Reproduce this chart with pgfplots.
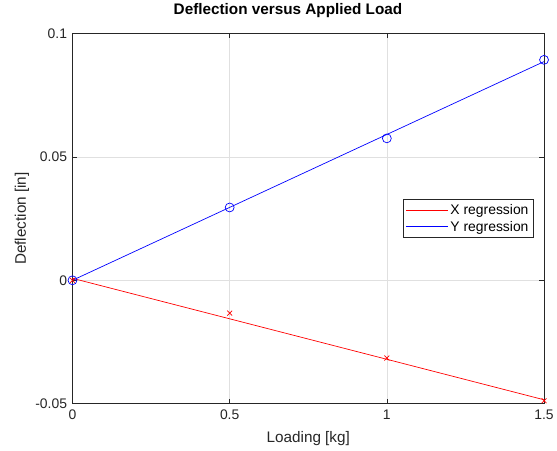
\documentclass[border=0pt]{standalone}
\usepackage{fontspec}
\setmainfont{Liberation Sans}
\usepackage{pgfplots}
\pgfplotsset{compat=1.18}
\definecolor{axgray}{HTML}{262626}
\definecolor{gridgray}{HTML}{E0E0E0}
\newcommand{\tickfont}{\fontsize{14}{16}\selectfont}
\newcommand{\labfont}{\fontsize{15.4}{18}\selectfont}

\begin{document}
\begin{tikzpicture}
\begin{axis}[
  width=475pt, height=373pt, scale only axis,
  xmin=0, xmax=1.5, ymin=-0.05, ymax=0.1,
  xtick={0,0.5,1,1.5}, xticklabels={0,0.5,1,1.5},
  ytick={-0.05,0,0.05,0.1}, yticklabels={-0.05,0,0.05,0.1},
  tick align=inside, major tick length=5pt,
  tick style={axgray, line width=0.6pt},
  axis line style={axgray, line width=0.6pt},
  grid=major, grid style={gridgray, line width=0.6pt},
  tick label style={font=\tickfont, text=axgray},
  x tick label style={yshift=-3pt},
  y tick label style={xshift=-2pt},
  /pgf/number format/assume math mode=true,
  xlabel={Loading [kg]}, ylabel={Deflection [in]},
  label style={font=\labfont, text=axgray},
  x label style={at={(0.5,-0.0938)}, anchor=center},
  y label style={at={(-0.107,0.5)}, anchor=center},
  title={\textbf{Deflection versus Applied Load}},
  title style={font=\labfont, at={(0.457,1.046)}, anchor=center},
  clip=false,
  legend style={at={(0.978,0.552)}, anchor=north east, draw=axgray, fill=white,
    font=\tickfont, inner xsep=3pt, inner ysep=3pt, row sep=1pt},
  legend cell align=left,
  legend image code/.code={\draw[#1] (0pt,0pt) -- (42pt,0pt);},
]
\path (rel axis cs:-0.1537,-0.126) rectangle (rel axis cs:1.0189,1.0804);
\addplot[draw=red, line width=0.7pt] coordinates {(0,0.0008) (1.5,-0.0484)};
\addlegendentry{X regression}
\addplot[draw=blue, line width=0.7pt] coordinates {(0,0) (1.5,0.0886)};
\addlegendentry{Y regression}
\addplot[red, only marks, mark=x, mark size=3.5pt, line width=0.7pt, forget plot]
  coordinates {(0,0) (0.5,-0.0133) (1,-0.0315) (1.5,-0.0488)};
\addplot[blue, only marks, mark=o, mark size=4.5pt, line width=0.7pt, forget plot]
  coordinates {(0,0) (0.5,0.0295) (1,0.0575) (1.5,0.0893)};
\end{axis}
\end{tikzpicture}
\end{document}
